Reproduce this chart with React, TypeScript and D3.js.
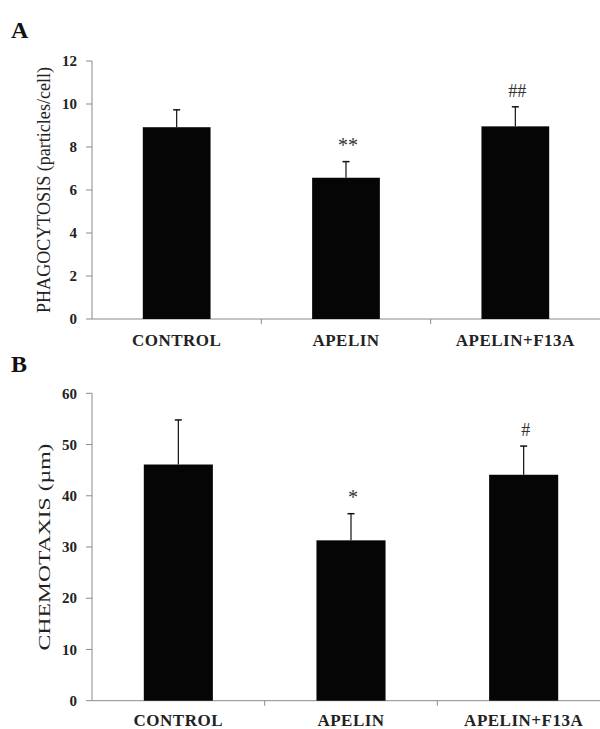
import React from "react";
import * as d3 from "d3";

const categories = ["CONTROL", "APELIN", "APELIN+F13A"];

const phagoMeans = [8.92, 6.57, 8.96];
const phagoErr = [0.81, 0.75, 0.91];
const phagoMarks = ["", "**", "##"];
const phagoTicks = [0, 2, 4, 6, 8, 10, 12];

const chemoMeans = [46.1, 31.3, 44.1];
const chemoErr = [8.7, 5.2, 5.6];
const chemoMarks = ["", "*", "#"];
const chemoTicks = [0, 10, 20, 30, 40, 50, 60];

const FONT = "'Liberation Serif', 'Times New Roman', serif";
const AXIS = "#8a8a8a";
const INK = "#111";

const Panel = ({ letter, letterY, means, errs, marks, ticks, yLabel, yLabelLen, yLabelSize, top, bottom, xEnd, labelY }) => {
  const left = 92;
  const y = d3
    .scaleLinear()
    .domain([0, ticks[ticks.length - 1]])
    .range([bottom, top]);
  const x = d3
    .scaleBand()
    .domain(categories)
    .range([left, xEnd])
    .paddingInner(0.6)
    .paddingOuter(0.3);
  const step = x.step();

  return (
    <g>
      <text x={11} y={letterY} fontFamily={FONT} fontWeight="bold" fontSize={24} fill={INK}>
        {letter}
      </text>

      {/* y axis */}
      <line x1={left} x2={left} y1={top} y2={bottom} stroke={AXIS} strokeWidth={1} />
      {ticks.map(t => (
        <g key={t}>
          <line x1={left - 6} x2={left} y1={y(t)} y2={y(t)} stroke={AXIS} />
          <text
            x={77}
            y={y(t)}
            dy="0.35em"
            textAnchor="end"
            fontFamily={FONT}
            fontWeight="bold"
            fontSize={15}
            fill="#222"
          >
            {t}
          </text>
        </g>
      ))}
      <text
        transform={`translate(50, ${(top + bottom) / 2}) rotate(-90)`}
        textAnchor="middle"
        fontFamily={FONT}
        fontSize={yLabelSize}
        textLength={yLabelLen}
        lengthAdjust="spacingAndGlyphs"
        fill="#222"
      >
        {yLabel}
      </text>

      {/* x axis */}
      <line x1={left} x2={xEnd} y1={bottom} y2={bottom} stroke={AXIS} />
      {categories.slice(1).map(c => {
        const tx = x(c) - step * 0.3;
        return <line key={c} x1={tx} x2={tx} y1={bottom} y2={bottom + 5} stroke={AXIS} />;
      })}
      {categories.map(c => (
        <text
          key={c}
          x={x(c) + x.bandwidth() / 2}
          y={labelY}
          textAnchor="middle"
          fontFamily={FONT}
          fontWeight="bold"
          fontSize={17}
          letterSpacing={0.5}
          fill="#222"
        >
          {c}
        </text>
      ))}

      {/* bars, error bars, marks */}
      {categories.map((c, i) => {
        const cx = x(c) + x.bandwidth() / 2;
        const yt = y(means[i]);
        const ye = y(means[i] + errs[i]);
        return (
          <g key={c}>
            <rect x={x(c)} y={yt} width={x.bandwidth()} height={bottom - yt} fill="#050505" />
            <line x1={cx} x2={cx} y1={yt} y2={ye} stroke={INK} strokeWidth={1.2} />
            <line x1={cx - 3.5} x2={cx + 3.5} y1={ye} y2={ye} stroke={INK} strokeWidth={1.5} />
            {marks[i] && (
              <text
                x={cx + 2}
                y={ye - 10}
                textAnchor="middle"
                fontFamily={FONT}
                fontSize={marks[i].includes("*") ? 20 : 18}
                fill="#333"
              >
                {marks[i]}
              </text>
            )}
          </g>
        );
      })}
    </g>
  );
};

export default function App() {
  return (
    <svg
      width={600}
      height={729}
      style={{ position: "absolute", left: 0, top: 0, background: "#fff" }}
    >
      <rect width={600} height={729} fill="#fff" />
      <Panel
        letter="A"
        letterY={38}
        means={phagoMeans}
        errs={phagoErr}
        marks={phagoMarks}
        ticks={phagoTicks}
        yLabel="PHAGOCYTOSIS (particles/cell)"
        yLabelLen={246}
        yLabelSize={18}
        top={61}
        bottom={319}
        xEnd={600}
        labelY={346}
      />
      <Panel
        letter="B"
        letterY={372}
        means={chemoMeans}
        errs={chemoErr}
        marks={chemoMarks}
        ticks={chemoTicks}
        yLabel="CHEMOTAXIS (µm)"
        yLabelLen={207}
        yLabelSize={17}
        top={393.3}
        bottom={700.7}
        xEnd={610}
        labelY={726}
      />
    </svg>
  );
}
